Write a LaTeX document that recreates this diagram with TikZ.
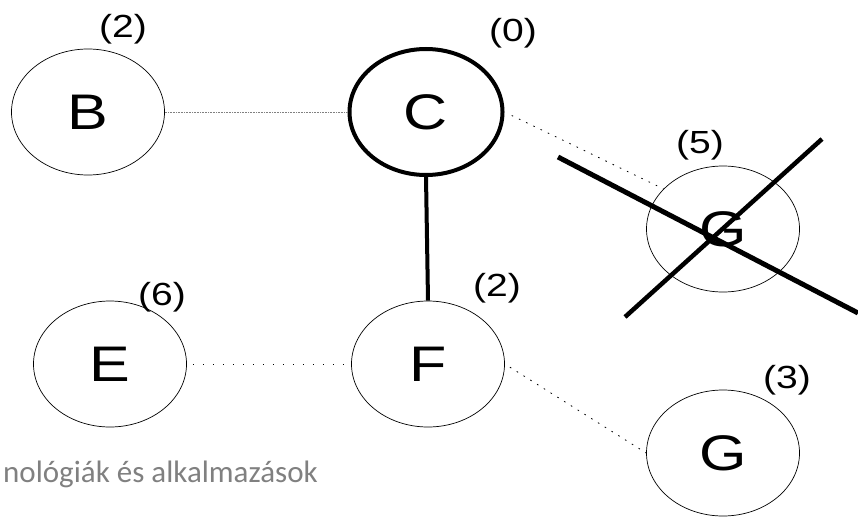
\documentclass[tikz,border=0pt]{standalone}
\usepackage{fontspec}
\setmainfont{Liberation Sans}
\newfontfamily\widefont[FakeStretch=1.22]{Liberation Sans}
\newfontfamily\footfont{Carlito}
\usetikzlibrary{shapes.geometric}

\begin{document}
\begin{tikzpicture}[x=1pt,y=-1pt,
        vertex/.style = {ellipse,
            draw,
            line width=0.7pt,
            minimum width=153pt,
            minimum height=126pt,
            inner sep=0pt,
            font=\widefont\fontsize{50}{50}\selectfont
            },
        cost/.style = {inner sep=0pt,
            font=\widefont\fontsize{32}{32}\selectfont
            },
        edgeline/.style = {line width=0.8pt,
            dash pattern=on 1.6pt off 6.4pt
            }]

    \useasboundingbox (0,0) rectangle (858,516);

    % Vertices
    \node[vertex] (B) at (88,112) {B};
    \node[vertex,line width=4pt] (C) at (426,112) {C};
    \node[vertex] (E) at (110,364) {E};
    \node[vertex] (F) at (428,364) {F};
    \node[vertex] (G5) at (723,229) {G};
    \node[vertex] (G3) at (723,453) {G};

    % Costs
    \node[cost] (cB) at (123,29) {(2)};
    \node[cost] (cC) at (513,33) {(0)};
    \node[cost] (cG5) at (700,145) {(5)};
    \node[cost] (cE) at (162,297) {(6)};
    \node[cost] (cF) at (497,288) {(2)};
    \node[cost] (cG3) at (787,380) {(3)};

    % Edges
    \draw[line width=0.6pt,gray,dash pattern=on 1pt off 0.6pt] (B.east) -- (C.west);
    \draw[line width=4pt] (C.south) -- (F.north);
    \draw[edgeline,shorten <=8pt] (C.east) -- (G5.146);
    \draw[edgeline,dash pattern=on 1.6pt off 8.4pt,shorten <=6pt] (E.east) -- (F.west);
    \draw[edgeline,shorten <=6pt] (F.east) -- (G3.west);

    % Crossed out
    \coordinate (x1) at (558,157);
    \coordinate (x2) at (858,313);
    \coordinate (x3) at (625,317);
    \coordinate (x4) at (822,139);
    \draw[line width=5pt] (x1) -- (x2);
    \draw[line width=4.5pt] (x3) -- (x4);

    % Footer
    \node[anchor=base west,inner sep=0pt,text=black!50,
        font=\footfont\fontsize{31}{31}\selectfont] (foot) at (3,482) {nológiák és alkalmazások};

\end{tikzpicture}
\end{document}
